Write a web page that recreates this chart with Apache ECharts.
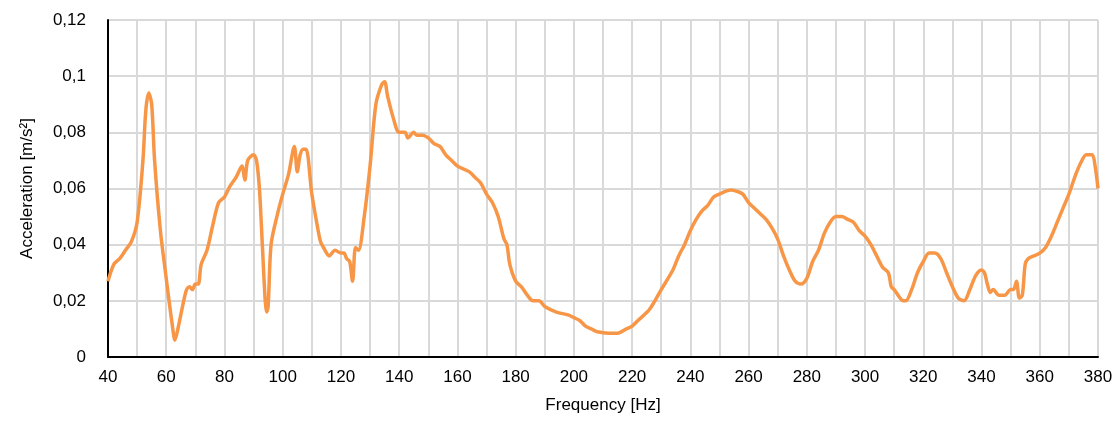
<!DOCTYPE html>
<html>
<head>
<meta charset="utf-8">
<script src="https://cdn.jsdelivr.net/npm/echarts@6/dist/echarts.min.js"></script>
<style>
  html, body { margin: 0; padding: 0; background: #fff; }
  #chart { width: 1118px; height: 434px; }
</style>
</head>
<body>
<div id="chart"></div>
<script>
// 频率 [Hz]
const freq = [40, 42, 44, 46, 48, 50, 52, 53, 54, 55, 56, 58, 60, 62, 63, 64, 66, 67, 68, 69, 70, 71, 72, 74, 76, 78, 80, 82, 84, 86, 87, 88, 90, 91, 92, 93, 94, 94.5, 95, 96, 98, 100, 102, 104, 105, 106, 107, 108, 110, 112, 113, 114, 116, 118, 120, 121, 122, 123, 124, 125, 126, 128, 130, 132, 134, 135, 136, 138, 140, 142, 143, 145, 146, 148, 150, 152, 154, 156, 158, 160, 164, 166, 168, 170, 172, 174, 176, 177, 178, 180, 182, 184, 186, 188, 190, 194, 198, 200, 202, 204, 206, 208, 212, 215, 218, 220, 222, 226, 230, 234, 236, 238, 240, 242, 244, 246, 248, 250, 252, 254, 256, 258, 260, 262, 264, 266, 268, 270, 272, 274, 276, 278, 280, 282, 284, 286, 288, 290, 292, 294, 296, 298, 300, 302, 304, 306, 308, 309, 310, 312, 313, 314, 316, 318, 320, 322, 324, 326, 328, 330, 332, 334, 336, 338, 340, 341, 342, 343, 344, 346, 348, 350, 351, 352, 353, 354, 355, 356, 358, 360, 362, 364, 366, 368, 370, 372, 374, 376, 378, 379, 380];

// 加速度 [m/s²]
const accel = [0.027, 0.033, 0.035, 0.038, 0.041, 0.048, 0.07, 0.088, 0.094, 0.09, 0.07, 0.045, 0.028, 0.012, 0.006, 0.01, 0.02, 0.024, 0.025, 0.024, 0.026, 0.026, 0.033, 0.038, 0.047, 0.055, 0.057, 0.061, 0.064, 0.068, 0.063, 0.07, 0.072, 0.07, 0.06, 0.04, 0.02, 0.016, 0.018, 0.04, 0.05, 0.058, 0.065, 0.075, 0.066, 0.072, 0.074, 0.074, 0.058, 0.046, 0.041, 0.039, 0.036, 0.038, 0.037, 0.037, 0.035, 0.034, 0.027, 0.039, 0.038, 0.05, 0.068, 0.09, 0.097, 0.098, 0.093, 0.085, 0.08, 0.08, 0.078, 0.08, 0.079, 0.079, 0.078, 0.076, 0.075, 0.072, 0.07, 0.068, 0.066, 0.064, 0.062, 0.058, 0.055, 0.05, 0.042, 0.04, 0.033, 0.027, 0.025, 0.022, 0.02, 0.02, 0.018, 0.016, 0.015, 0.014, 0.013, 0.011, 0.01, 0.009, 0.0085, 0.0085, 0.01, 0.011, 0.013, 0.017, 0.024, 0.031, 0.036, 0.04, 0.045, 0.049, 0.052, 0.054, 0.057, 0.058, 0.059, 0.0595, 0.059, 0.058, 0.055, 0.053, 0.051, 0.049, 0.046, 0.042, 0.036, 0.031, 0.027, 0.026, 0.028, 0.034, 0.038, 0.044, 0.048, 0.05, 0.05, 0.049, 0.048, 0.045, 0.043, 0.04, 0.036, 0.032, 0.03, 0.025, 0.024, 0.021, 0.02, 0.02, 0.024, 0.03, 0.034, 0.037, 0.037, 0.035, 0.03, 0.025, 0.021, 0.02, 0.024, 0.029, 0.031, 0.03, 0.026, 0.023, 0.024, 0.022, 0.022, 0.024, 0.024, 0.027, 0.021, 0.022, 0.033, 0.035, 0.036, 0.037, 0.039, 0.043, 0.048, 0.053, 0.058, 0.064, 0.069, 0.072, 0.072, 0.068, 0.06];

const chart = echarts.init(document.getElementById('chart'));

const labelStyle = {
  color: '#000',
  fontSize: 17,
  fontFamily: 'Liberation Sans'
};

const option = {
  animation: false,
  grid: {
    left: 108,
    right: 20,
    top: 20,
    bottom: 77,
    show: true,
    borderColor: '#000',
    borderWidth: 1
  },
  xAxis: {
    type: 'value',
    min: 40,
    max: 380,
    interval: 20,
    name: 'Frequency [Hz]',
    nameLocation: 'middle',
    nameGap: 40,
    nameTextStyle: labelStyle,
    axisLine: { lineStyle: { color: '#000', width: 2 } },
    axisTick: { show: false },
    axisLabel: Object.assign({ margin: 12 }, labelStyle),
    splitLine: { lineStyle: { color: '#d9d9d9', width: 2 } },
    minorTick: { show: false, splitNumber: 2 },
    minorSplitLine: { show: true, lineStyle: { color: '#d9d9d9', width: 2 } }
  },
  yAxis: {
    type: 'value',
    min: 0,
    max: 0.12,
    interval: 0.02,
    name: 'Acceleration [m/s²]',
    nameLocation: 'middle',
    nameGap: 72,
    nameTextStyle: labelStyle,
    axisLine: { show: true, lineStyle: { color: '#000', width: 2 } },
    axisTick: { show: false },
    axisLabel: Object.assign({
      margin: 22,
      formatter: v => String(+v.toFixed(2)).replace('.', ',')
    }, labelStyle),
    splitLine: { lineStyle: { color: '#d9d9d9', width: 2 } }
  },
  series: [{
    type: 'line',
    data: freq.map((f, i) => [f, accel[i]]),
    smooth: 0.3,
    showSymbol: false,
    lineStyle: { color: '#f79646', width: 3.5 }
  }]
};

chart.setOption(option);
</script>
</body>
</html>
